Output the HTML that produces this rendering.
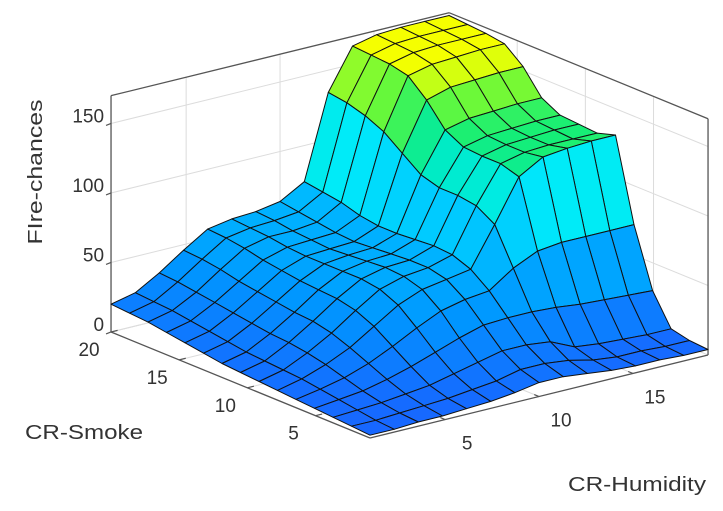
<!DOCTYPE html>
<html><head><meta charset="utf-8"><style>
html,body{margin:0;padding:0;background:#fff}
svg{display:block}
text{font-family:"Liberation Sans",sans-serif;fill:#333}
</style></head><body>
<svg id="chart" width="723" height="511" viewBox="0 0 723 511" xmlns="http://www.w3.org/2000/svg">
<g id="walls"></g>
<g id="surf"></g>
<g id="axes"></g>
<text x="0" y="0" font-size="20" text-anchor="middle" textLength="145" lengthAdjust="spacingAndGlyphs" transform="translate(42,172) rotate(-90)">FIre-chances</text>
<text x="25" y="439" font-size="20" textLength="118" lengthAdjust="spacingAndGlyphs">CR-Smoke</text>
<text x="568" y="491" font-size="20" textLength="138" lengthAdjust="spacingAndGlyphs">CR-Humidity</text>
</svg>
<script>
// ---- data ----
const humidityVals = [1,2.29,3.57,4.86,6.14,7.43,8.71,10,11.29,12.57,13.86,15.14,16.43,17.71,19];
const smokeVals = [1,2.36,3.71,5.07,6.43,7.79,9.14,10.5,11.86,13.21,14.57,15.93,17.29,18.64,20];
// zGrid[row = smoke index][col = humidity index]
const zGrid = [
 [2,2,3,3,4,5,7,10,10,8,6,5,5,4,4],
 [3,3,4,5,6,8,10,14,14,12,8,6,6,5,5],
 [4,5,6,8,10,14,18,22,22,20,12,10,9,8,8],
 [5,7,9,13,18,24,30,35,36,36,35,33,32,31,30],
 [6,9,13,19,27,36,44,48,50,62,70,72,72,72,72],
 [7,11,17,25,36,47,54,57,60,88,118,128,130,131,131],
 [8,12,20,30,42,53,58,60,65,96,122,126,127,127,127],
 [9,13,22,33,45,55,59,60,66,98,122,126,127,128,128],
 [10,14,23,34,46,55,58,59,65,98,123,127,128,129,129],
 [12,16,25,36,47,55,57,58,64,102,130,134,135,136,136],
 [14,18,27,38,49,55,56,57,64,112,146,151,152,153,153],
 [16,20,29,40,51,56,57,58,66,122,158,162,163,164,164],
 [18,22,31,43,54,58,58,60,70,128,161,165,166,166,166],
 [19,23,33,45,56,59,60,62,72,132,162,166,167,167,167],
 [20,24,34,46,57,60,61,64,74,134,163,167,168,168,168]
];
const zTicks = [0,50,100,150];
const smokeTicks = [5,10,15,20];
const humidityTicks = [5,10,15];

// ---- axes / projection ----
const hMin=1,hMax=19,sMin=1,sMax=20,zTop=170;
const O={x:370,y:438};
function proj(h,s,z){
  const a=h-hMin,b=s-sMin;
  return [O.x+18.78*a-13.63*b, O.y-4.61*a-5.58*b-1.39*z];
}
const NS='http://www.w3.org/2000/svg';
function mk(tag,attrs,parent){const e=document.createElementNS(NS,tag);for(const k in attrs)e.setAttribute(k,attrs[k]);parent.appendChild(e);return e;}
function line(p,q,col,w,parent){return mk('line',{x1:p[0],y1:p[1],x2:q[0],y2:q[1],stroke:col,'stroke-width':w},parent);}
const walls=document.getElementById('walls'),surf=document.getElementById('surf'),axes=document.getElementById('axes');
const gridCol='#dcdcdc';
zTicks.forEach(z=>{
  let l1=line(proj(hMin,sMax,z),proj(hMax,sMax,z),gridCol,1,walls);
  
  
  let l2=line(proj(hMax,sMax,z),proj(hMax,sMin,z),gridCol,1,walls);
  
  
});
humidityTicks.forEach(h=>{
  let l=line(proj(h,sMax,0),proj(h,sMax,zTop),gridCol,1,walls);
  
  
  let f=line(proj(h,sMin,0),proj(h,sMax,0),gridCol,1,walls);
  
  
});
smokeTicks.forEach(s=>{
  let l=line(proj(hMax,s,0),proj(hMax,s,zTop),gridCol,1,walls);
  
  
  let f=line(proj(hMin,s,0),proj(hMax,s,0),gridCol,1,walls);
  
  
});
const boxCol='#555';
[[proj(hMin,sMax,0),proj(hMin,sMax,zTop)],[proj(hMin,sMax,zTop),proj(hMax,sMax,zTop)],
 [proj(hMax,sMax,zTop),proj(hMax,sMin,zTop)],[proj(hMax,sMin,zTop),proj(hMax,sMin,0)]].forEach(pq=>{
  let l=line(pq[0],pq[1],boxCol,1.3,walls);
  
  
});

// ---- colormap ----
const stops=[[0,[25,100,255]],[40,[0,150,255]],[80,[0,200,255]],[100,[0,235,250]],[115,[0,235,190]],[127,[20,238,120]],[142,[100,248,60]],[155,[200,255,20]],[162,[245,255,0]]];
function color(z){
  if(z<=stops[0][0])return 'rgb('+stops[0][1]+')';
  for(let i=1;i<stops.length;i++){if(z<=stops[i][0]){const t=(z-stops[i-1][0])/(stops[i][0]-stops[i-1][0]);const a=stops[i-1][1],b=stops[i][1];return 'rgb('+a.map((v,k)=>Math.round(v+(b[k]-v)*t)).join(',')+')';}}
  return 'rgb('+stops[stops.length-1][1]+')';
}

// ---- surface faces, painter order back to front ----
const faces=[];
for(let j=0;j<smokeVals.length-1;j++)for(let i=0;i<humidityVals.length-1;i++){
  const hc=(humidityVals[i]+humidityVals[i+1])/2,sc=(smokeVals[j]+smokeVals[j+1])/2;
  faces.push({i,j,d:19.18*hc+26.63*sc});
}
faces.sort((a,b)=>b.d-a.d);
faces.forEach(f=>{
  const i=f.i,j=f.j;
  const c=[[i,j],[i+1,j],[i+1,j+1],[i,j+1]];
  const pts=c.map(([ii,jj])=>proj(humidityVals[ii],smokeVals[jj],zGrid[jj][ii]).map(v=>v.toFixed(1)).join(',')).join(' ');
  const zAvg=(zGrid[j][i]+zGrid[j][i+1]+zGrid[j+1][i]+zGrid[j+1][i+1])/4;
  const p=mk('polygon',{points:pts,fill:color(zAvg),stroke:'#111','stroke-width':1,'stroke-linejoin':'round'},surf);
  
  
});

// ---- front axes ----
let ax1=line(proj(hMin,sMax,0),proj(hMin,sMin,0),boxCol,1.3,axes);


let ax2=line(proj(hMin,sMin,0),proj(hMax,sMin,0),boxCol,1.3,axes);


zTicks.forEach(z=>{
  const p=proj(hMin,sMax,z);
  let t=line([p[0]-5,p[1]+2],p,boxCol,1.2,axes);
  
  
  const tx=mk('text',{x:p[0]-7,y:p[1]-1,'font-size':19,'text-anchor':'end'},axes);
  tx.textContent=z;
  
  
});
smokeTicks.forEach(s=>{
  const p=proj(hMin,s,0);
  let t=line(p,proj(hMin+0.35,s,0),boxCol,1.2,axes);
  
  
  const tx=mk('text',{x:p[0]-22,y:p[1]+24,'font-size':19,'text-anchor':'middle'},axes);
  tx.textContent=s;
  
  
});
humidityTicks.forEach(h=>{
  const p=proj(h,sMin,0);
  let t=line(p,proj(h,sMin+0.35,0),boxCol,1.2,axes);
  
  
  const tx=mk('text',{x:p[0]+22,y:p[1]+30,'font-size':19,'text-anchor':'middle'},axes);
  tx.textContent=h;
  
  
});
</script>
</body></html>
